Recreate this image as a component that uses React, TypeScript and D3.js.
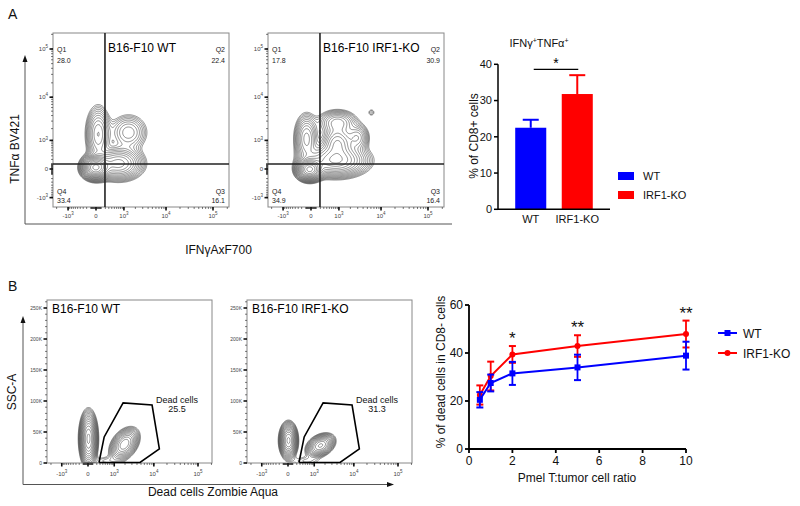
import React from 'react';
import * as d3 from 'd3';

const FONT = "'Liberation Sans', Arial, Helvetica, sans-serif";
const BIEX = 350; // biexponential (symlog) display constant

// ---------- Panel A : flow plots ----------
const flowTitlesA = ['B16-F10 WT', 'B16-F10 IRF1-KO'];
const quadNames = ['Q1', 'Q2', 'Q3', 'Q4'];
const quadValuesA = [
  ['28.0', '22.4', '16.1', '33.4'],
  ['17.8', '30.9', '16.4', '34.9'],
];
const quadGateIFNg = 190;
const quadGateTNFa = 93;
// populations: [IFNγ, TNFα, spread IFNγ (biex units), spread TNFα (biex units), weight]
const popsWTA = [
  [-17, 35, 0.31, 0.26, 1.0],
  [30, 1500, 0.3, 0.66, 0.2],
  [663, 114, 0.58, 0.38, 0.35],
  [1290, 1655, 0.48, 0.45, 0.12],
];
const popsKOA = [
  [-36, 0, 0.29, 0.24, 1.0],
  [770, 185, 0.77, 0.38, 0.4],
  [880, 900, 0.39, 0.38, 0.3],
  [880, 2860, 0.48, 0.3, 0.18],
  [2880, 1230, 0.29, 0.33, 0.15],
  [-95, 1160, 0.29, 0.57, 0.22],
  [6000, 4800, 0.12, 0.12, 0.035],
];
const biexMajor = [-1000, 0, 1000, 10000, 100000];
const biexMajorLabels = [['-10', '3'], ['0', ''], ['10', '3'], ['10', '4'], ['10', '5']];

// ---------- Panel A : bar chart ----------
const barGroups = ['WT', 'IRF1-KO'];
const barMeans = [22.5, 31.8];
const barErr = [2.2, 5.2];
const barTicks = [0, 10, 20, 30, 40];
const barColors = ['#0000ff', '#ff0000'];

// ---------- Panel B : flow plots ----------
const flowTitlesB = ['B16-F10 WT', 'B16-F10 IRF1-KO'];
const deadPct = ['25.5', '31.3'];
// populations: [Zombie, SSC-A, spread Zombie (biex units), spread SSC (raw), weight, correlation]
const popsWTB = [
  [0, 40000, 0.2, 19000, 1.0, 0],
  [1876, 31000, 0.34, 12000, 0.55, 0.4],
  [500, 4000, 0.5, 5000, 0.05, 0],
];
const popsKOB = [
  [0, 37000, 0.2, 12500, 1.0, 0],
  [1465, 29000, 0.33, 8500, 0.6, 0.35],
  [500, 4000, 0.5, 5000, 0.05, 0],
];
const gateZombie = [266, 455, 1780, 9100, 13400, 4730];
const gateSSC = [800, 42000, 97000, 93500, 22600, 800];
const sscTicks = [0, 50000, 100000, 150000, 200000, 250000];
const sscLabels = ['0', '50K', '100K', '150K', '200K', '250K'];

// ---------- Panel B : line chart ----------
const ratios = [0.5, 1, 2, 5, 10];
const wtDead = [20.5, 27.5, 31.5, 34.0, 38.9];
const wtErr = [3.2, 3.5, 4.8, 5.3, 5.8];
const koDead = [22.5, 30.4, 39.4, 42.9, 47.9];
const koErr = [4.0, 6.0, 3.5, 4.5, 5.6];
const sigLabels = ['', '', '*', '**', '**'];
const lineXTicks = [0, 2, 4, 6, 8, 10];
const lineYTicks = [0, 20, 40, 60];

function biexMinor(lo: number, hi: number) {
  const out: number[] = [];
  [10, 100, 1000, 10000, 100000].forEach((d) => {
    for (let m = 1; m <= 9; m++) {
      const v = m * d;
      if (v >= 1000000) continue;
      if (v <= hi) out.push(v);
      if (-v >= lo) out.push(-v);
    }
  });
  return out;
}

type Comp = { cx: number; cy: number; sx: number; sy: number; w: number; rho: number };

function contourPaths(w: number, h: number, comps: Comp[], levels: number[]) {
  const values = new Array(w * h);
  let max = 0;
  for (let j = 0; j < h; j++) {
    for (let i = 0; i < w; i++) {
      let s = 0;
      for (const c of comps) {
        const dx = (i - c.cx) / c.sx;
        const dy = -(j - c.cy) / c.sy;
        const q = (dx * dx - 2 * c.rho * dx * dy + dy * dy) / (1 - c.rho * c.rho);
        s += c.w * Math.exp(-0.5 * q);
      }
      values[j * w + i] = s;
      if (s > max) max = s;
    }
  }
  const th = levels.map((l) => l * max);
  const cs = d3.contours().size([w, h]).thresholds(th)(values);
  const gp = d3.geoPath();
  return cs.map((c) => gp(c as any) || '');
}

function geomLevels(n: number, lo: number, hi: number) {
  return d3.range(n).map((i) => lo * Math.pow(hi / lo, i / (n - 1)));
}

function Sup({ x, y, base, sup, size, anchor = 'middle' }: any) {
  return (
    <text x={x} y={y} fontSize={size} textAnchor={anchor} fill="#444">
      {base}
      {sup ? (
        <tspan fontSize={size * 0.75} dy={-size * 0.45}>
          {sup}
        </tspan>
      ) : null}
    </text>
  );
}

function FlowA({ idx, left }: { idx: number; left: number }) {
  const top = 33, width = 176, height = 174;
  const x = d3.scaleSymlog().constant(BIEX).domain([0, 100000]).range([left + 43, left + 160]);
  const y = d3.scaleSymlog().constant(BIEX).domain([0, 100000]).range([169, 49]);
  const kx = (x(100000) - x(0)) / Math.log1p(100000 / BIEX);
  const ky = (y(0) - y(100000)) / Math.log1p(100000 / BIEX);
  const pops = idx === 0 ? popsWTA : popsKOA;
  const comps: Comp[] = pops.map((p) => ({
    cx: x(p[0]) - left, cy: y(p[1]) - top, sx: p[2] * kx, sy: p[3] * ky, w: p[4], rho: 0,
  }));
  const paths = contourPaths(width, height, comps, geomLevels(18, 0.02, 0.9));
  const xMin = x.invert(left), xMax = x.invert(left + width);
  const yMin = y.invert(top + height), yMax = y.invert(top);
  const gx = x(quadGateIFNg), gy = y(quadGateTNFa);
  const clipId = `clipA${idx}`;
  const qv = quadValuesA[idx];
  return (
    <g>
      <defs>
        <clipPath id={clipId}>
          <rect x={left} y={top} width={width} height={height} />
        </clipPath>
      </defs>
      <g clipPath={`url(#${clipId})`}>
        <g transform={`translate(${left},${top})`}>
          {paths.map((d, i) => (
            <path key={i} d={d} fill="none" stroke="#333" strokeWidth={0.6} strokeOpacity={0.9} />
          ))}
        </g>
      </g>
      <rect x={left} y={top} width={width} height={height} fill="none" stroke="#888" strokeWidth={1} />
      <line x1={gx} x2={gx} y1={top} y2={top + height} stroke="#222" strokeWidth={1.6} />
      <line x1={left} x2={left + width} y1={gy} y2={gy} stroke="#222" strokeWidth={1.6} />
      {biexMinor(yMin, yMax).map((v, i) => (
        <line key={'ym' + i} x1={left - 2} x2={left} y1={y(v)} y2={y(v)} stroke="#222" strokeWidth={0.6} />
      ))}
      {biexMajor.map((v, i) => (
        <g key={'yM' + i}>
          <line x1={left - 3.5} x2={left} y1={y(v)} y2={y(v)} stroke="#111" strokeWidth={1.6} />
          <Sup x={left - 5} y={y(v) + 2} base={biexMajorLabels[i][0]} sup={biexMajorLabels[i][1]} size={6} anchor="end" />
        </g>
      ))}
      {biexMinor(xMin, xMax).map((v, i) => (
        <line key={'xm' + i} x1={x(v)} x2={x(v)} y1={top + height} y2={top + height + 2} stroke="#222" strokeWidth={0.6} />
      ))}
      {biexMajor.map((v, i) => (
        <g key={'xM' + i}>
          <line x1={x(v)} x2={x(v)} y1={top + height} y2={top + height + 3.5} stroke="#111" strokeWidth={1.6} />
          <Sup x={x(v)} y={top + height + 11} base={biexMajorLabels[i][0]} sup={biexMajorLabels[i][1]} size={6} />
        </g>
      ))}
      <text x={left + 55} y={52} fontSize={12} fill="#000">{flowTitlesA[idx]}</text>
      <g fontSize={7} fill="#222">
        <text x={left + 4} y={top + 19}>{quadNames[0]}</text>
        <text x={left + 4} y={top + 30}>{qv[0]}</text>
        <text x={left + width - 4} y={top + 19} textAnchor="end">{quadNames[1]}</text>
        <text x={left + width - 4} y={top + 30} textAnchor="end">{qv[1]}</text>
        <text x={left + width - 4} y={top + height - 13} textAnchor="end">{quadNames[2]}</text>
        <text x={left + width - 4} y={top + height - 4.5} textAnchor="end">{qv[2]}</text>
        <text x={left + 4} y={top + height - 13}>{quadNames[3]}</text>
        <text x={left + 4} y={top + height - 4.5}>{qv[3]}</text>
      </g>
    </g>
  );
}

function FlowB({ idx, left }: { idx: number; left: number }) {
  const top = 300, width = 165, height = 163;
  const x = d3.scaleSymlog().constant(BIEX).domain([0, 100000]).range([left + 41, left + 151]);
  const y = d3.scaleLinear().domain([0, 250000]).range([463, 308]);
  const kx = (x(100000) - x(0)) / Math.log1p(100000 / BIEX);
  const ky = (y(0) - y(250000)) / 250000;
  const pops = idx === 0 ? popsWTB : popsKOB;
  const comps: Comp[] = pops.map((p) => ({
    cx: x(p[0]) - left, cy: y(p[1]) - top, sx: p[2] * kx, sy: p[3] * ky, w: p[4], rho: p[5],
  }));
  const paths = contourPaths(width, height, comps, geomLevels(15, 0.03, 0.92));
  const xMin = x.invert(left), xMax = x.invert(left + width);
  const clipId = `clipB${idx}`;
  const gatePts = gateZombie.map((z, i) => [x(z), y(gateSSC[i])] as [number, number]);
  const minorSSC = d3.range(0, 260001, 10000).filter((v) => v % 50000 !== 0);
  return (
    <g>
      <defs>
        <clipPath id={clipId}>
          <rect x={left} y={top} width={width} height={height} />
        </clipPath>
      </defs>
      <g clipPath={`url(#${clipId})`}>
        <g transform={`translate(${left},${top})`}>
          {paths.map((d, i) => (
            <path key={i} d={d} fill="none" stroke="#333" strokeWidth={0.6} strokeOpacity={0.9} />
          ))}
        </g>
      </g>
      <rect x={left} y={top} width={width} height={height} fill="none" stroke="#888" strokeWidth={1} />
      <path d={d3.line()(gatePts.concat([gatePts[0]])) || ''} fill="none" stroke="#000" strokeWidth={1.6} strokeLinejoin="miter" />
      {minorSSC.map((v, i) => (
        <line key={'ym' + i} x1={left - 2} x2={left} y1={y(v)} y2={y(v)} stroke="#222" strokeWidth={0.6} />
      ))}
      {sscTicks.map((v, i) => (
        <g key={'yM' + i}>
          <line x1={left - 3.5} x2={left} y1={y(v)} y2={y(v)} stroke="#111" strokeWidth={1.6} />
          <text x={left - 5} y={y(v) + 2} fontSize={5} textAnchor="end" fill="#444">{sscLabels[i]}</text>
        </g>
      ))}
      {biexMinor(xMin, xMax).map((v, i) => (
        <line key={'xm' + i} x1={x(v)} x2={x(v)} y1={top + height} y2={top + height + 2} stroke="#222" strokeWidth={0.6} />
      ))}
      {biexMajor.map((v, i) => (
        <g key={'xM' + i}>
          <line x1={x(v)} x2={x(v)} y1={top + height} y2={top + height + 3.5} stroke="#111" strokeWidth={1.6} />
          <Sup x={x(v)} y={top + height + 13} base={biexMajorLabels[i][0]} sup={biexMajorLabels[i][1]} size={6} />
        </g>
      ))}
      <text x={left + 5} y={313} fontSize={12} fill="#000">{flowTitlesB[idx]}</text>
      <text x={left + 130} y={403} fontSize={9} textAnchor="middle" fill="#111">Dead cells</text>
      <text x={left + 130} y={411.5} fontSize={9} textAnchor="middle" fill="#111">{deadPct[idx]}</text>
    </g>
  );
}

function BarChart() {
  const y = d3.scaleLinear().domain([0, 40]).range([209.3, 64.3]);
  const x = d3.scaleBand().domain(barGroups).range([498, 610]).paddingInner(0.333).paddingOuter(0.37);
  const cx = (g: string) => (x(g) as number) + x.bandwidth() / 2;
  const bx1 = cx(barGroups[0]), bx2 = cx(barGroups[1]);
  const brY = y(38.6);
  return (
    <g>
      {barGroups.map((g, i) => (
        <g key={g}>
          <line x1={cx(g)} x2={cx(g)} y1={y(barMeans[i])} y2={y(barMeans[i] + barErr[i])} stroke={barColors[i]} strokeWidth={2} />
          <line x1={cx(g) - 8} x2={cx(g) + 8} y1={y(barMeans[i] + barErr[i])} y2={y(barMeans[i] + barErr[i])} stroke={barColors[i]} strokeWidth={2} />
          <rect x={x(g)} y={y(barMeans[i])} width={x.bandwidth()} height={y(0) - y(barMeans[i])} fill={barColors[i]} />
          <text x={cx(g)} y={223} fontSize={11} textAnchor="middle" fill="#111">{g}</text>
        </g>
      ))}
      <line x1={498} x2={498} y1={y(40)} y2={y(0)} stroke="#000" strokeWidth={1.5} />
      <line x1={498} x2={610} y1={y(0)} y2={y(0)} stroke="#000" strokeWidth={1.5} />
      {barTicks.map((t) => (
        <g key={t}>
          <line x1={494} x2={498} y1={y(t)} y2={y(t)} stroke="#000" strokeWidth={1.5} />
          <text x={492} y={y(t) + 3.8} fontSize={11} textAnchor="end" fill="#111">{t}</text>
        </g>
      ))}
      <line x1={bx1 + 3} x2={bx2 + 1} y1={brY} y2={brY} stroke="#000" strokeWidth={1.2} />
      <text x={(bx1 + bx2) / 2 + 2} y={brY - 1} fontSize={14} textAnchor="middle">*</text>
      <text x={539} y={47} fontSize={11} textAnchor="middle" fill="#111">
        IFNγ<tspan fontSize={7} dy={-4}>+</tspan>
        <tspan dy={4}>TNFα</tspan>
        <tspan fontSize={7} dy={-4}>+</tspan>
      </text>
      <text transform="translate(477.5,136) rotate(-90)" fontSize={12} textAnchor="middle" fill="#111">% of CD8+ cells</text>
      {barGroups.map((g, i) => (
        <g key={'lg' + g}>
          <rect x={618} y={172 + i * 19} width={16} height={8} fill={barColors[i]} />
          <text x={643} y={179.5 + i * 19} fontSize={11} fill="#111">{g}</text>
        </g>
      ))}
    </g>
  );
}

function LineChart() {
  const x = d3.scaleLinear().domain([0, 10]).range([469, 686]);
  const y = d3.scaleLinear().domain([0, 60]).range([449, 305]);
  const line = d3.line<number>().x((_, i) => x(ratios[i])).y((d) => y(d));
  const series = [
    { name: 'IRF1-KO', vals: koDead, err: koErr, color: '#ff0000', shape: 'circle' },
    { name: 'WT', vals: wtDead, err: wtErr, color: '#0000ff', shape: 'square' },
  ];
  return (
    <g>
      {series.map((s) => (
        <g key={s.name}>
          <path d={line(s.vals) || ''} fill="none" stroke={s.color} strokeWidth={2} />
          {s.vals.map((v, i) => (
            <g key={i}>
              <line x1={x(ratios[i])} x2={x(ratios[i])} y1={y(v - s.err[i])} y2={y(v + s.err[i])} stroke={s.color} strokeWidth={1.8} />
              <line x1={x(ratios[i]) - 3.5} x2={x(ratios[i]) + 3.5} y1={y(v - s.err[i])} y2={y(v - s.err[i])} stroke={s.color} strokeWidth={2} />
              <line x1={x(ratios[i]) - 3.5} x2={x(ratios[i]) + 3.5} y1={y(v + s.err[i])} y2={y(v + s.err[i])} stroke={s.color} strokeWidth={2} />
              {s.shape === 'circle' ? (
                <circle cx={x(ratios[i])} cy={y(v)} r={3} fill={s.color} />
              ) : (
                <rect x={x(ratios[i]) - 3} y={y(v) - 3} width={6} height={6} fill={s.color} />
              )}
            </g>
          ))}
        </g>
      ))}
      {sigLabels.map((l, i) =>
        l ? (
          <text key={i} x={x(ratios[i])} y={y(koDead[i] + koErr[i]) - 2} fontSize={17} textAnchor="middle" fill="#111">{l}</text>
        ) : null
      )}
      <line x1={x(0)} x2={x(0)} y1={y(60)} y2={y(0)} stroke="#000" strokeWidth={1.8} />
      <line x1={x(0)} x2={x(10)} y1={y(0)} y2={y(0)} stroke="#000" strokeWidth={1.8} />
      {lineYTicks.map((t) => (
        <g key={t}>
          <line x1={x(0) - 4} x2={x(0)} y1={y(t)} y2={y(t)} stroke="#000" strokeWidth={1.8} />
          <text x={463} y={y(t) + 4} fontSize={12} textAnchor="end" fill="#111">{t}</text>
        </g>
      ))}
      {lineXTicks.map((t) => (
        <g key={t}>
          <line x1={x(t)} x2={x(t)} y1={y(0)} y2={y(0) + 4} stroke="#000" strokeWidth={1.8} />
          <text x={x(t)} y={465} fontSize={12} textAnchor="middle" fill="#111">{t}</text>
        </g>
      ))}
      <text x={577} y={482} fontSize={12} textAnchor="middle" fill="#111">Pmel T:tumor cell ratio</text>
      <text transform="translate(445,372) rotate(-90)" fontSize={12} textAnchor="middle" fill="#111">% of dead cells in CD8- cells</text>
      {[
        { name: 'WT', color: '#0000ff', shape: 'square' },
        { name: 'IRF1-KO', color: '#ff0000', shape: 'circle' },
      ].map((s, i) => (
        <g key={s.name}>
          <line x1={718} x2={737} y1={333 + i * 20} y2={333 + i * 20} stroke={s.color} strokeWidth={2} />
          {s.shape === 'circle' ? (
            <circle cx={727.5} cy={333 + i * 20} r={3} fill={s.color} />
          ) : (
            <rect x={724.5} y={330 + i * 20} width={6} height={6} fill={s.color} />
          )}
          <text x={743} y={338 + i * 20} fontSize={12} fill="#111">{s.name}</text>
        </g>
      ))}
    </g>
  );
}

function Arrow({ x, y, dir }: { x: number; y: number; dir: 'up' | 'right' }) {
  const pts = dir === 'up'
    ? [[x, y], [x - 2.5, y + 7], [x + 2.5, y + 7]]
    : [[x, y], [x - 7, y - 2.5], [x - 7, y + 2.5]];
  return <polygon points={pts.map((p) => p.join(',')).join(' ')} fill="#111" />;
}

export default function App() {
  return (
    <svg width={800} height={506} fontFamily={FONT} style={{ position: 'absolute', left: 0, top: 0, background: '#fff' }}>
      <rect x={0} y={0} width={800} height={506} fill="#fff" />
      <text x={8} y={18.5} fontSize={14} fill="#111">A</text>
      <text x={8} y={291} fontSize={14} fill="#111">B</text>

      <line x1={25} x2={25} y1={60} y2={224} stroke="#555" strokeWidth={1} />
      <line x1={25} x2={452} y1={224} y2={224} stroke="#555" strokeWidth={1} />
      <Arrow x={25} y={55} dir="up" />
      <FlowA idx={0} left={53} />
      <FlowA idx={1} left={268} />
      <text transform="translate(18.5,149) rotate(-90)" fontSize={12} textAnchor="middle" fill="#111">TNFα BV421</text>
      <text x={218.5} y={253.5} fontSize={12} textAnchor="middle" fill="#111">IFNγAxF700</text>

      <BarChart />

      <line x1={23} x2={23} y1={320} y2={484.5} stroke="#555" strokeWidth={1} />
      <line x1={23} x2={390} y1={484.5} y2={484.5} stroke="#555" strokeWidth={1} />
      <Arrow x={23} y={316} dir="up" />
      <Arrow x={394} y={484.5} dir="right" />
      <FlowB idx={0} left={47} />
      <FlowB idx={1} left={247} />
      <text transform="translate(16,392) rotate(-90)" fontSize={12} textAnchor="middle" fill="#111">SSC-A</text>
      <text x={213} y={496} fontSize={12} textAnchor="middle" fill="#111">Dead cells Zombie Aqua</text>

      <LineChart />
    </svg>
  );
}
